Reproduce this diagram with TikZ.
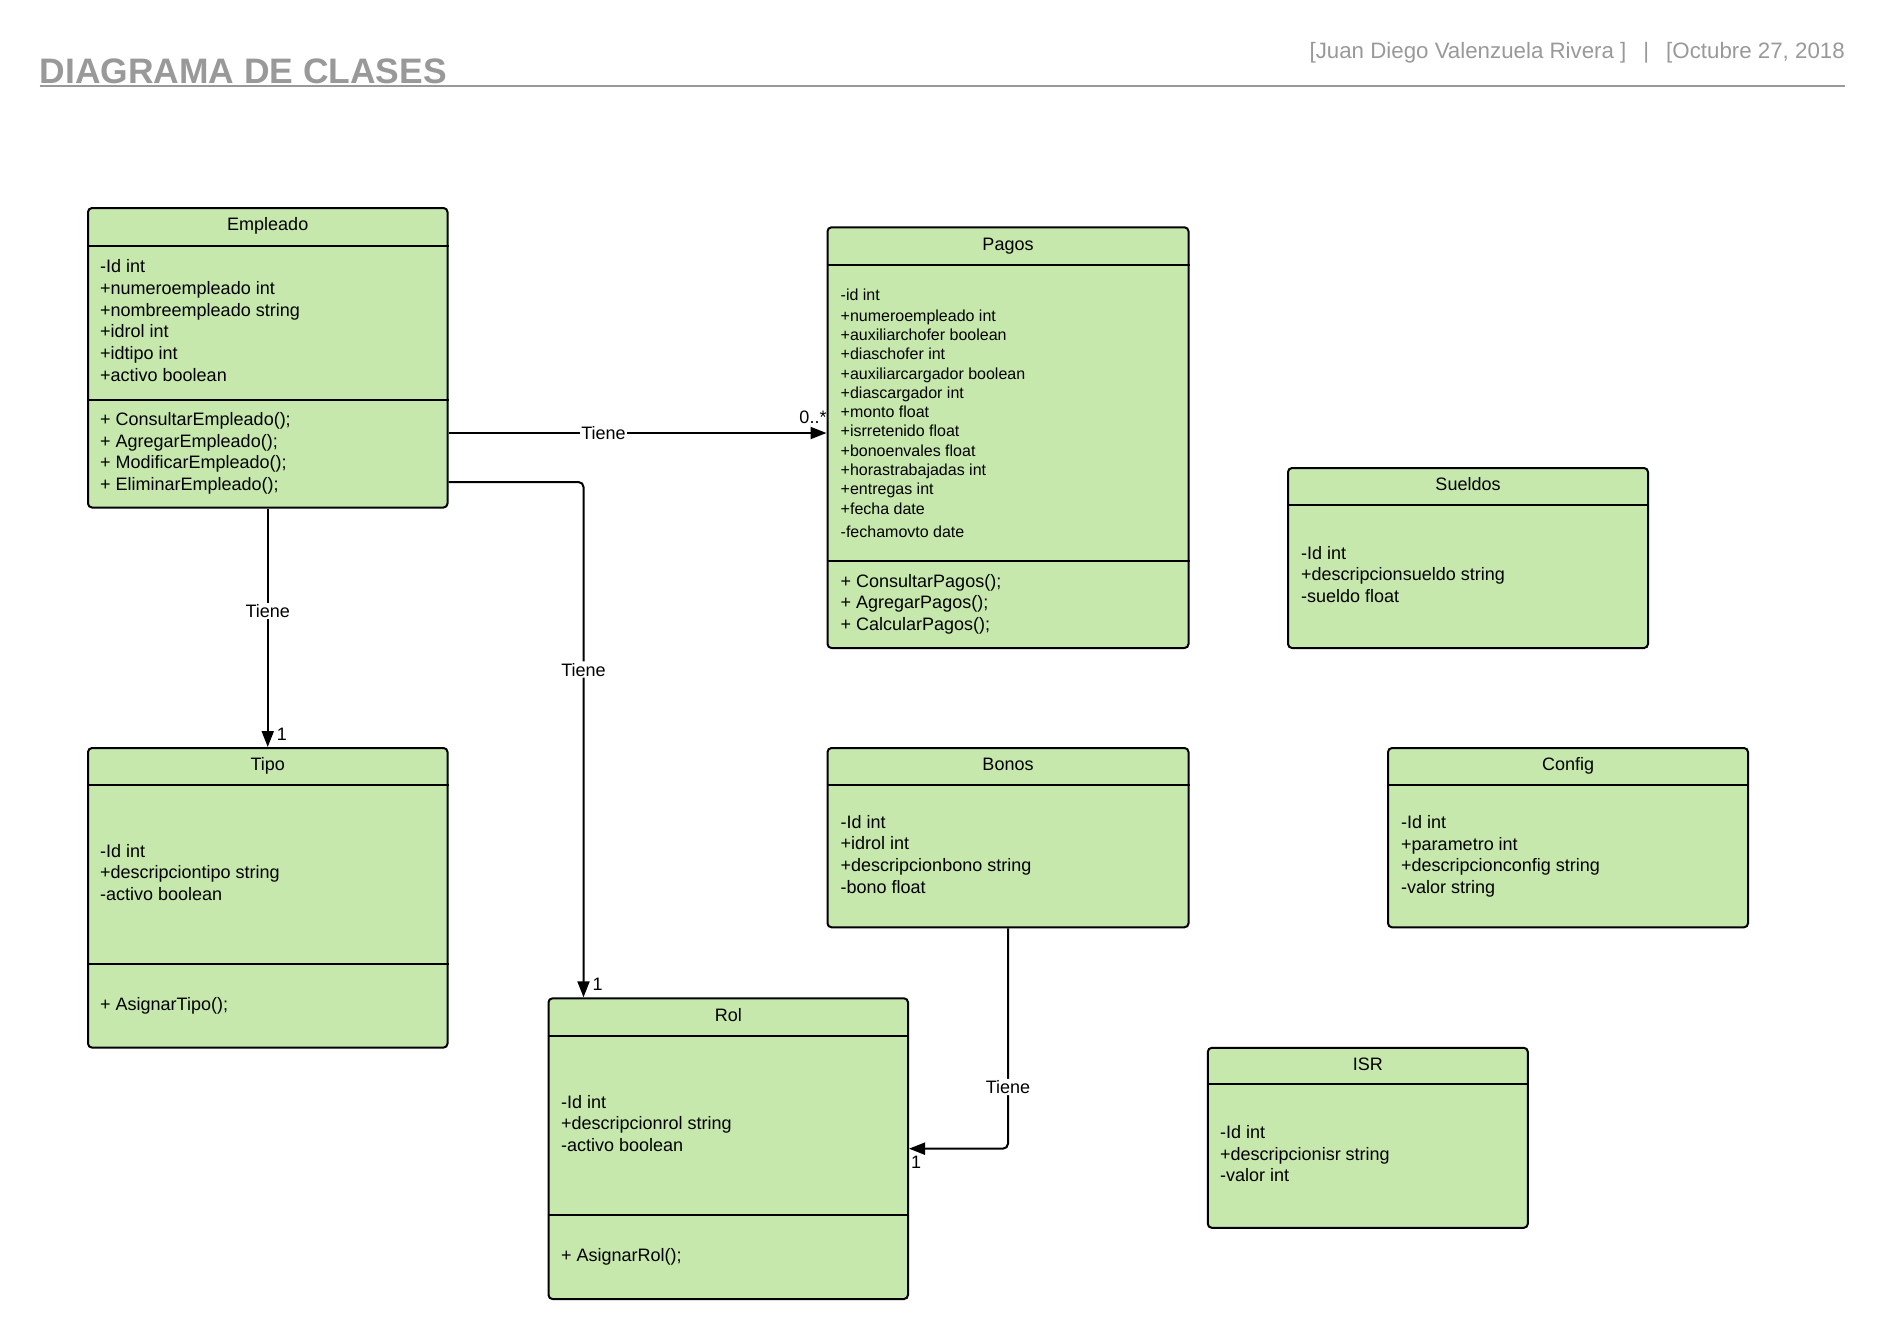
\documentclass[tikz,border=0pt]{standalone}
\usepackage{fontspec}
\setmainfont{Liberation Sans}
\usetikzlibrary{arrows.meta}
\definecolor{umlgreen}{HTML}{C7E8AC}
\definecolor{headgray}{HTML}{999999}

\begin{document}
\begin{tikzpicture}[x=1pt, y=-1pt,
		classbox/.style={draw, line width=2pt, rounded corners=4pt, fill=umlgreen, inner sep=0pt},
		classname/.style={font=\fontsize{18}{21.65}\selectfont, text height=13pt, text depth=4pt, inner sep=0pt},
		members/.style={font=\fontsize{18}{21.65}\selectfont, align=left, anchor=north west, inner sep=0pt},
		smallmembers/.style={font=\fontsize{16}{19.3}\selectfont, align=left, anchor=north west, inner sep=0pt},
		compart/.style={line width=2pt},
		assoc/.style={line width=2pt, -{Triangle[length=16pt, width=12pt]}},
		rel/.style={font=\fontsize{18}{21.65}\selectfont, fill=white, inner sep=1.5pt},
		mult/.style={font=\fontsize{18}{21.65}\selectfont, inner sep=1pt}]
		\path[fill=white, use as bounding box] (0,0) rectangle (1886,1339);

		% Header
		\node[font=\bfseries\fontsize{35.4}{40}\selectfont, text=headgray, anchor=base west, inner sep=0pt] (title) at (39.5,83.5) {DIAGRAMA DE CLASES};
		\node[font=\fontsize{22.3}{26}\selectfont, text=headgray, anchor=base east, inner sep=0pt] (autor) at (1845,58.5) {[Juan Diego Valenzuela Rivera ]\hspace{17pt}|\hspace{17pt}[Octubre 27, 2018};
		\draw[headgray, line width=2pt] ([yshift=-2.5pt]title.base west) -- ([yshift=-2.5pt]title.base west -| autor.east);

		% Class 1: Empleado
		\node[classbox, minimum width=359.5pt, minimum height=299.5pt] (empleado) at (267.75,357.75) {};
		\draw[compart] ([yshift=-38.5pt]empleado.north west) -- ([yshift=-38.5pt]empleado.north east);
		\draw[compart] ([yshift=-192.5pt]empleado.north west) -- ([yshift=-192.5pt]empleado.north east);
		\node[classname] (empleado-name) at ([yshift=-19.25pt]empleado.north) {Empleado};
		\node[members] (empleado-attr) at (100,259.6) {-Id int\\+numeroempleado int\\+nombreempleado string\\+idrol int\\+idtipo int\\+activo boolean};
		\node[members] (empleado-ops) at (100,412.4) {+ ConsultarEmpleado();\\+ AgregarEmpleado();\\+ ModificarEmpleado();\\+ EliminarEmpleado();};

		% Class 2: Pagos
		\node[classbox, minimum width=361pt, minimum height=420.7pt] (pagos) at (1008,437.65) {};
		\draw[compart] ([yshift=-38.5pt]pagos.north west) -- ([yshift=-38.5pt]pagos.north east);
		\draw[compart] ([yshift=-334.4pt]pagos.north west) -- ([yshift=-334.4pt]pagos.north east);
		\node[classname] (pagos-name) at ([yshift=-19.25pt]pagos.north) {Pagos};
		\node[smallmembers] (pagos-attr) at (840.5,288.3) {-id int\\[1.7pt]+numeroempleado int\\+auxiliarchofer boolean\\+diaschofer int\\+auxiliarcargador boolean\\+diascargador int\\+monto float\\+isrretenido float\\+bonoenvales float\\+horastrabajadas int\\+entregas int\\+fecha date\\[4.4pt]-fechamovto date};
		\node[members] (pagos-ops) at (840.5,573.9) {+ ConsultarPagos();\\+ AgregarPagos();\\+ CalcularPagos();};

		% Class 3: Sueldos
		\node[classbox, minimum width=360pt, minimum height=180pt] (sueldos) at (1468,558) {};
		\draw[compart] ([yshift=-37.5pt]sueldos.north west) -- ([yshift=-37.5pt]sueldos.north east);
		\node[classname] (sueldos-name) at ([yshift=-18.75pt]sueldos.north) {Sueldos};
		\node[members] (sueldos-attr) at (1301,545.9) {-Id int\\+descripcionsueldo string\\-sueldo float};

		% Class 4: Tipo
		\node[classbox, minimum width=359.5pt, minimum height=299.6pt] (tipo) at (267.75,897.8) {};
		\draw[compart] ([yshift=-37.5pt]tipo.north west) -- ([yshift=-37.5pt]tipo.north east);
		\draw[compart] ([yshift=-216.6pt]tipo.north west) -- ([yshift=-216.6pt]tipo.north east);
		\node[classname] (tipo-name) at ([yshift=-18.75pt]tipo.north) {Tipo};
		\node[members] (tipo-attr) at (100,843.9) {-Id int\\+descripciontipo string\\-activo boolean};
		\node[members] (tipo-ops) at (100,996.9) {+ AsignarTipo();};

		% Class 5: Rol
		\node[classbox, minimum width=359.5pt, minimum height=300.7pt] (rol) at (728.25,1148.65) {};
		\draw[compart] ([yshift=-38.5pt]rol.north west) -- ([yshift=-38.5pt]rol.north east);
		\draw[compart] ([yshift=-217.7pt]rol.north west) -- ([yshift=-217.7pt]rol.north east);
		\node[classname] (rol-name) at ([yshift=-19.25pt]rol.north) {Rol};
		\node[members] (rol-attr) at (561,1094.9) {-Id int\\+descripcionrol string\\-activo boolean};
		\node[members] (rol-ops) at (561,1247.9) {+ AsignarRol();};

		% Class 6: Bonos
		\node[classbox, minimum width=361pt, minimum height=179.3pt] (bonos) at (1008,837.65) {};
		\draw[compart] ([yshift=-37.5pt]bonos.north west) -- ([yshift=-37.5pt]bonos.north east);
		\node[classname] (bonos-name) at ([yshift=-18.75pt]bonos.north) {Bonos};
		\node[members] (bonos-attr) at (840.5,814.9) {-Id int\\+idrol int\\+descripcionbono string\\-bono float};

		% Class 7: Config
		\node[classbox, minimum width=360pt, minimum height=179.3pt] (config) at (1568,837.65) {};
		\draw[compart] ([yshift=-37.5pt]config.north west) -- ([yshift=-37.5pt]config.north east);
		\node[classname] (config-name) at ([yshift=-18.75pt]config.north) {Config};
		\node[members] (config-attr) at (1401,815.4) {-Id int\\+parametro int\\+descripcionconfig string\\-valor string};

		% Class 8: ISR
		\node[classbox, minimum width=320pt, minimum height=180pt] (isr) at (1367.8,1137.8) {};
		\draw[compart] ([yshift=-37.6pt]isr.north west) -- ([yshift=-37.6pt]isr.north east);
		\node[classname] (isr-name) at ([yshift=-18.8pt]isr.north) {ISR};
		\node[members] (isr-attr) at (1220,1125.4) {-Id int\\+descripcionisr string\\-valor int};

		% Associations
		\draw[assoc] ([yshift=-75.25pt]empleado.east) -- ([yshift=4.65pt]pagos.west)
			node[rel, pos=0.41] {Tiene}
			node[mult, pos=1, anchor=south east, xshift=2pt, yshift=7.5pt] {0..*};
		\draw[assoc] (empleado.south) -- (tipo.north)
			node[rel, pos=0.43] {Tiene}
			node[mult, pos=1, anchor=south west, xshift=7pt, yshift=5pt] {1};
		\draw[assoc, rounded corners=5pt] ([yshift=-124.25pt]empleado.east) -| ([xshift=36pt]rol.north west)
			node[rel, pos=0.682] {Tiene}
			node[mult, pos=1, anchor=south west, xshift=7pt, yshift=5pt] {1};
		\draw[assoc, rounded corners=5pt] (bonos.south) |- (rol.east)
			node[rel, pos=0.36] {Tiene}
			node[mult, pos=1, anchor=north west, yshift=-5pt] {1};
	\end{tikzpicture}
\end{document}
